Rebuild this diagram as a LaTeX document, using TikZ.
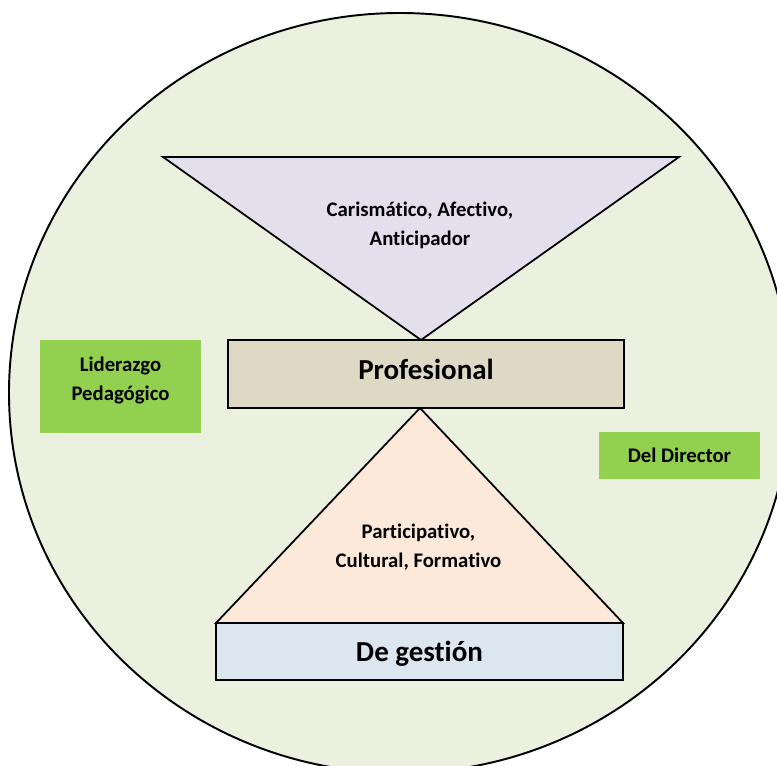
\documentclass[tikz,border=0pt]{standalone}
\usepackage{fontspec}
\setmainfont{Carlito}[Ligatures=NoCommon]
\usepackage{tikz}
\usetikzlibrary{positioning,calc}

\definecolor{fondo}{HTML}{EBF1DE}
\definecolor{verde}{HTML}{92D050}
\definecolor{lila}{HTML}{E4DFEC}
\definecolor{arena}{HTML}{DDD9C4}
\definecolor{durazno}{HTML}{FDE9D9}
\definecolor{celeste}{HTML}{DCE6F1}

\tikzset{
  caja/.style={draw, line width=1.1pt, minimum height=1.36cm, font=\bfseries\fontsize{16.5}{20}\selectfont},
  etiqueta/.style={fill=verde, minimum width=3.22cm, align=center, font=\bfseries\fontsize{11.8}{16.5}\selectfont},
  texto/.style={align=center, font=\bfseries\fontsize{11.8}{16.5}\selectfont}
}

\begin{document}
\begin{tikzpicture}

% marco
\clip (-8,7.86) rectangle (7.54,-7.44);

% fondo
\draw[fill=fondo, line width=1.1pt] (0,0) ellipse (7.82cm and 7.6cm);

% triangulo superior
\coordinate (A1) at (-4.74,4.72);
\coordinate (A2) at (5.58,4.72);
\coordinate (A3) at (0.42,1.06);
\draw[fill=lila, line width=1pt] (A1) -- (A2) -- (A3) -- cycle;
\node[texto] (cualidades) at (0.4,3.36) {Carismático, Afectivo,\\Anticipador};

% triangulo inferior
\coordinate (B1) at (0.40,-0.30);
\coordinate (B2) at (4.46,-4.6);
\coordinate (B3) at (-3.68,-4.6);
\draw[fill=durazno, line width=1pt] (B1) -- (B2) -- (B3) -- cycle;
\node[texto] (estilos) at (0.37,-3.08) {Participativo,\\Cultural, Formativo};

% cajas
\node[caja, fill=arena, minimum width=7.92cm, text depth=0.2cm] (profesional) at (0.52,0.38) {Profesional};
\node[caja, fill=celeste, minimum width=8.14cm, minimum height=1.14cm, text depth=0pt] (gestion) at (0.39,-5.17) {De gestión};

% etiquetas
\node[etiqueta, minimum height=1.86cm, text depth=0.3cm] (liderazgo) at (-5.59,0.13) {Liderazgo\\Pedagógico};
\node[etiqueta, minimum height=0.94cm] (director) at (5.59,-1.25) {Del Director};

\end{tikzpicture}
\end{document}
